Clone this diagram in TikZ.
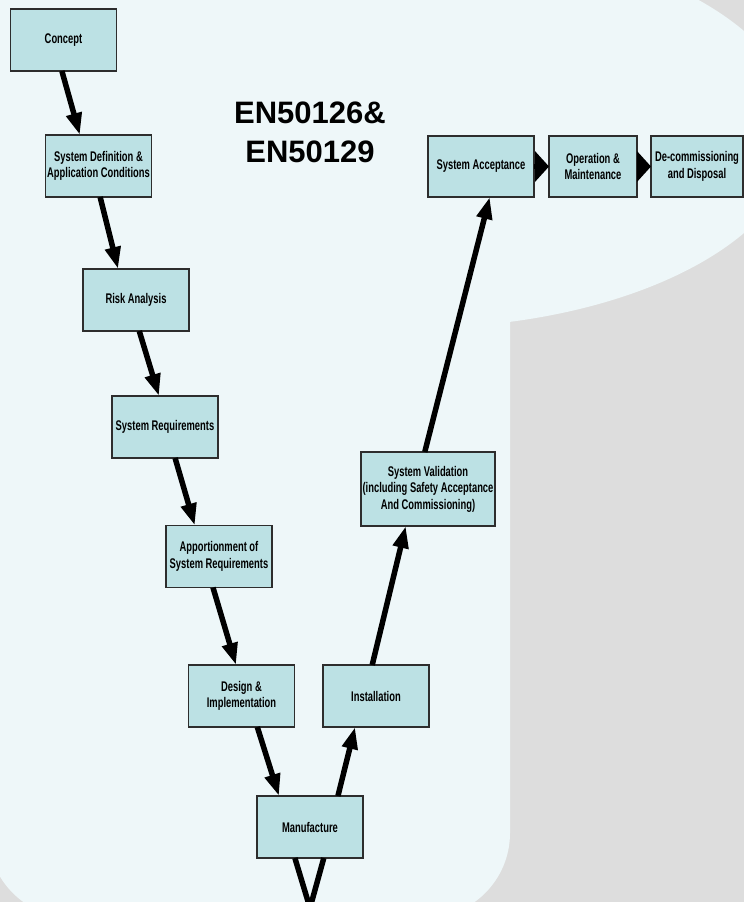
\documentclass[tikz,border=0pt]{standalone}
\usepackage{fontspec}
\setmainfont{Liberation Sans}
\newfontfamily\boxfont[FakeStretch=0.67]{Liberation Sans}
\usetikzlibrary{arrows.meta,positioning}

\definecolor{pagegray}{RGB}{221,221,221}
\definecolor{panel}{RGB}{238,247,249}
\definecolor{boxfill}{RGB}{188,225,228}
\definecolor{boxline}{RGB}{45,45,45}

\begin{document}
\begin{tikzpicture}[x=1pt, y=-1pt,
    phase/.style={draw=boxline, line width=1.2pt, fill=boxfill,
        minimum width=106pt, minimum height=62pt, inner sep=1pt, outer sep=0pt,
        align=center, font=\boxfont\bfseries\fontsize{14}{16.5}\selectfont},
    flow/.style={line width=5.5pt, -{Triangle[length=22pt,width=15pt]}},
    sideflow/.style={line width=5.5pt, -{Triangle[length=14pt,width=30pt]}}]
        % background
        \useasboundingbox (0,0) rectangle (744,902);
        \clip (0,0) rectangle (744,902);
        \fill[pagegray] (0,0) rectangle (744,902);
        \fill[panel, rounded corners=85pt] (-12,-120) rectangle (510,918);
        \fill[panel] (414,132) ellipse [x radius=385pt, y radius=196pt];

        \node[font=\bfseries\fontsize{31}{39}\selectfont, align=center, inner sep=0pt]
            (title) at (310,132.5) {EN50126\&\\EN50129};

        % the V
        \node[phase] (concept) at (63.5,40) {Concept};
        \node[phase] (sysdef) at (98.5,166) {System Definition \&\\Application Conditions};
        \node[phase] (risk) at (136,300) {Risk Analysis};
        \node[phase] (sysreq) at (165,427) {System Requirements};
        \node[phase] (apport) at (219,556.5) {Apportionment of\\System Requirements};
        \node[phase] (design) at (241.5,696) {Design \&\\Implementation};
        \node[phase] (manuf) at (310,827) {Manufacture};
        \node[phase] (install) at (376,696) {Installation};
        \node[phase, minimum width=134pt, minimum height=74pt] (valid) at (428,489)
            {System Validation\\(including Safety Acceptance\\And Commissioning)};
        \node[phase, minimum height=61pt] (accept) at (481,166.5) {System Acceptance};
        \node[phase, minimum width=88pt, minimum height=61pt, right=15pt of accept] (oper) {Operation \&\\Maintenance};
        \node[phase, minimum width=92pt, minimum height=61pt, right=14pt of oper] (decom) {De-commissioning\\and Disposal};
        \coordinate (vtip) at (310,908);

        \path[flow]
            (concept.-93) edge (sysdef.121)
            (sysdef.-87) edge (risk.120)
            (risk.-84) edge (sysreq.101)
            (sysreq.-72) edge (apport.128)
            (apport.-101) edge (design.100)
            (design.-63) edge (manuf.135)
            (manuf.48) edge (install.-124)
            (install.97) edge (valid.-121)
            (valid.95) edge (accept.-74);
        \path[sideflow]
            (accept) edge (oper)
            (oper) edge (decom);
        \draw[line width=5.5pt] (manuf.-116) -- (vtip) -- (manuf.-66);
    \end{tikzpicture}
\end{document}
